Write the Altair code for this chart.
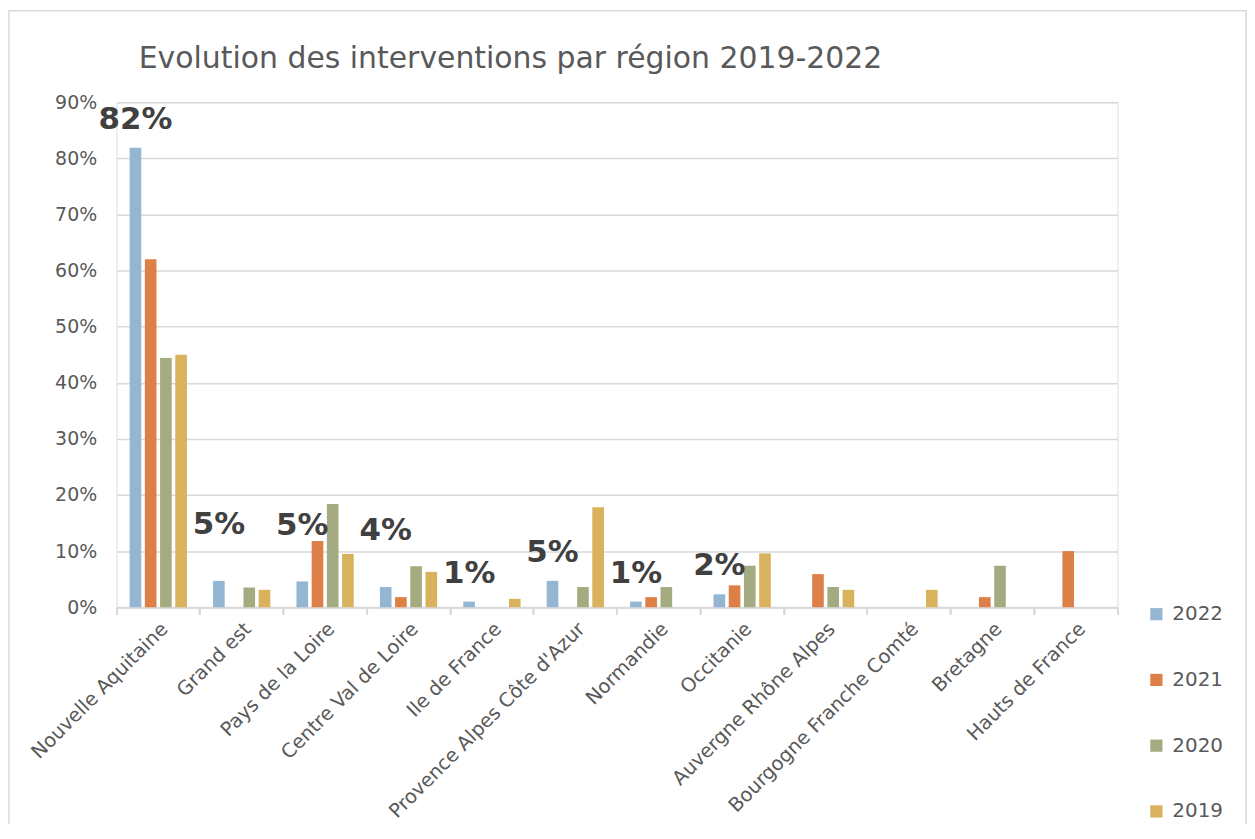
import altair as alt
import pandas as pd

regions = ["Nouvelle Aquitaine", "Grand est", "Pays de la Loire", "Centre Val de Loire",
           "Ile de France", "Provence Alpes Côte d'Azur", "Normandie", "Occitanie",
           "Auvergne Rhône Alpes", "Bourgogne Franche Comté", "Bretagne", "Hauts de France"]
years = ["2022", "2021", "2020", "2019"]
colors = ["#94B6D2", "#DD8047", "#A5AB81", "#D8B25C"]

v2022 = [81.9, 4.7, 4.6, 3.6, 1.0, 4.7, 1.0, 2.3, None, None, None, None]
v2021 = [62.0, None, 11.8, 1.8, None, None, 1.8, 3.9, 5.9, None, 1.8, 10.0]
v2020 = [44.4, 3.5, 18.4, 7.3, None, 3.6, 3.6, 7.4, 3.6, None, 7.4, None]
v2019 = [45.0, 3.1, 9.5, 6.3, 1.5, 17.8, None, 9.6, 3.1, 3.1, None, None]

series = {"2022": v2022, "2021": v2021, "2020": v2020, "2019": v2019}
rows = []
for y in years:
    for r, v in zip(regions, series[y]):
        if v is not None:
            rows.append({"region": r, "year": y, "value": v / 100})
df = pd.DataFrame(rows)

FONT = "DejaVu Sans"
GRAY = "#595959"
LINE = "#d9d9d9"

x_lab = alt.X("region:N", sort=regions, title=None,
              scale=alt.Scale(paddingInner=0, paddingOuter=0),
              axis=alt.Axis(orient="bottom", labelAngle=-45, labelFontSize=19.5, labelColor=GRAY,
                            labelFont=FONT, ticks=False, domainColor=LINE, domainWidth=2,
                            labelPadding=12, labelLimit=400))
x_tick = alt.X("region:N", sort=regions, title=None,
               scale=alt.Scale(paddingInner=0, paddingOuter=0),
               axis=alt.Axis(orient="bottom", labels=False, domain=False, ticks=True,
                             tickColor=LINE, tickWidth=2, tickSize=7, bandPosition=1,
                             tickExtra=True))
xoff = alt.XOffset("year:N", scale=alt.Scale(domain=years, paddingInner=0.235, paddingOuter=0.86))
yenc = alt.Y("value:Q", title=None,
             scale=alt.Scale(domain=[0, 0.9], nice=False),
             axis=alt.Axis(format=".0%", values=[i / 10 for i in range(10)], labelFontSize=19,
                           labelColor=GRAY, labelFont=FONT, domain=False, ticks=False,
                           gridColor=LINE, gridWidth=1.5, labelPadding=20))

bars = alt.Chart(df).mark_bar().encode(
    x=x_lab, xOffset=xoff, y=yenc,
    color=alt.Color("year:N", scale=alt.Scale(domain=years, range=colors),
                    legend=alt.Legend(title=None, orient="none", legendX=1034, legendY=504,
                                      symbolType="square", symbolSize=150, symbolStrokeWidth=0,
                                      labelFontSize=20, labelColor=GRAY, labelFont=FONT,
                                      rowPadding=46, labelOffset=6)),
)

lab = alt.Chart(df).transform_filter(alt.datum.year == "2022")
raised = ["Grand est", "Pays de la Loire", "Centre Val de Loire"]
lab_low = lab.transform_filter(~alt.FieldOneOfPredicate(field="region", oneOf=raised)).mark_text(
    font=FONT, fontSize=31, fontWeight="bold", color="#404040", baseline="alphabetic", dy=-19
).encode(x=x_tick, xOffset=xoff, y=alt.Y("value:Q"), text=alt.Text("value:Q", format=".0%"))
lab_high = lab.transform_filter(alt.FieldOneOfPredicate(field="region", oneOf=raised)).mark_text(
    font=FONT, fontSize=31, fontWeight="bold", color="#404040", baseline="alphabetic", dy=-47
).encode(x=x_tick, xOffset=xoff, y=alt.Y("value:Q"), text=alt.Text("value:Q", format=".0%"))

border = alt.Chart(pd.DataFrame({"a": [0]})).mark_rect(
    fill=None, stroke=LINE, strokeWidth=1.5
).encode(x=alt.value(-108), x2=alt.value(1134), y=alt.value(-92), y2=alt.value(740))

chart = alt.layer(bars, lab_low, lab_high, border).resolve_axis(x="independent").properties(
    width=1005, height=507,
    autosize=alt.AutoSizeParams(type="none"),
    padding={"left": 109, "top": 93, "right": 130, "bottom": 216},
    title=alt.Title("Evolution des interventions par région 2019-2022", font=FONT, fontSize=30,
                    fontWeight="normal", color=GRAY, anchor="start", dx=131, offset=-88,
                    baseline="alphabetic"),
).configure_view(stroke=None).configure(background="white")

chart.save("out.html", embed_options={"renderer": "svg", "actions": False})
